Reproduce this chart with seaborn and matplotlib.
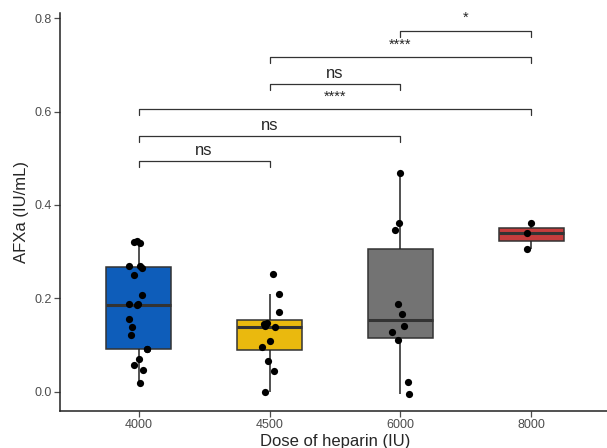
import numpy as np
import pandas as pd
import matplotlib
matplotlib.use('Agg')
import matplotlib.pyplot as plt
import seaborn as sns

## data ##
doses = ['4000', '4500', '6000', '8000']
afxa_4000 = [0.019, 0.047, 0.057, 0.071, 0.092, 0.092, 0.122, 0.139, 0.155, 0.186,
             0.187, 0.187, 0.207, 0.250, 0.266, 0.269, 0.270, 0.318, 0.321, 0.322]
afxa_4500 = [0.0, 0.045, 0.067, 0.097, 0.109, 0.138, 0.140, 0.145, 0.148, 0.170, 0.209, 0.252]
afxa_6000 = [-0.004, 0.022, 0.111, 0.128, 0.141, 0.167, 0.187, 0.346, 0.361, 0.468]
afxa_8000 = [0.306, 0.339, 0.361]
box_colors = ['#0E5DBA', '#EAB90E', '#737373', '#C63D3D']

## significance brackets (group a, group b, height, label) ##
sig_pairs = [(0, 1), (0, 2), (0, 3), (1, 2), (1, 3), (2, 3)]
sig_heights = [0.495, 0.548, 0.605, 0.660, 0.716, 0.773]
sig_labels = ['ns', 'ns', '****', 'ns', '****', '*']

df = pd.DataFrame({
    'dose': ['4000'] * len(afxa_4000) + ['4500'] * len(afxa_4500)
            + ['6000'] * len(afxa_6000) + ['8000'] * len(afxa_8000),
    'afxa': afxa_4000 + afxa_4500 + afxa_6000 + afxa_8000})

sns.set_style('white')
plt.rcParams['font.family'] = ['Liberation Sans', 'DejaVu Sans']

fig = plt.figure(figsize=(6.07, 4.48), dpi=100)
ax = fig.add_axes([60 / 607, 37 / 448, 550 / 607, 398 / 448])

sns.boxplot(data=df, x='dose', y='afxa', hue='dose', order=doses, hue_order=doses,
            palette=box_colors, legend=False, width=0.5, showfliers=False,
            showcaps=False, linecolor='#333333', linewidth=1.1, saturation=1,
            whiskerprops={'color': '#222222'},
            medianprops={'linewidth': 2.2}, ax=ax)

np.random.seed(3)
sns.stripplot(data=df, x='dose', y='afxa', order=doses, color='black',
              size=5.2, jitter=0.08, ax=ax)

## brackets ##
for (a, b), h, lab in zip(sig_pairs, sig_heights, sig_labels):
    ax.plot([a, a, b, b], [h - 0.013, h, h, h - 0.013], color='#333333', lw=0.9)
    if lab == 'ns':
        ax.text((a + b) / 2, h + 0.006, lab, ha='center', va='bottom', fontsize=12)
    else:
        ax.text((a + b) / 2, h + 0.012, lab, ha='center', va='bottom', fontsize=10.5)

ax.set_xlim(-0.6, 3.6)
ax.set_ylim(-0.041, 0.811)
ax.set_yticks([0.0, 0.2, 0.4, 0.6, 0.8])
ax.set_yticklabels(['0.0', '0.2', '0.4', '0.6', '0.8'])
ax.set_xlabel('Dose of heparin (IU)', fontsize=12, labelpad=2)
ax.set_ylabel('AFXa (IU/mL)', fontsize=12, labelpad=4)
ax.tick_params(axis='both', colors='#4D4D4D', labelsize=9, length=4, width=0.9,
               bottom=True, left=True, pad=2)
for lab in ax.get_xticklabels() + ax.get_yticklabels():
    lab.set_color('#4D4D4D')
ax.spines['top'].set_visible(False)
ax.spines['right'].set_visible(False)
ax.spines['left'].set_color('#222222')
ax.spines['bottom'].set_color('#222222')
ax.spines['left'].set_linewidth(1.1)
ax.spines['bottom'].set_linewidth(1.1)

fig.savefig('out.png', dpi=100)
